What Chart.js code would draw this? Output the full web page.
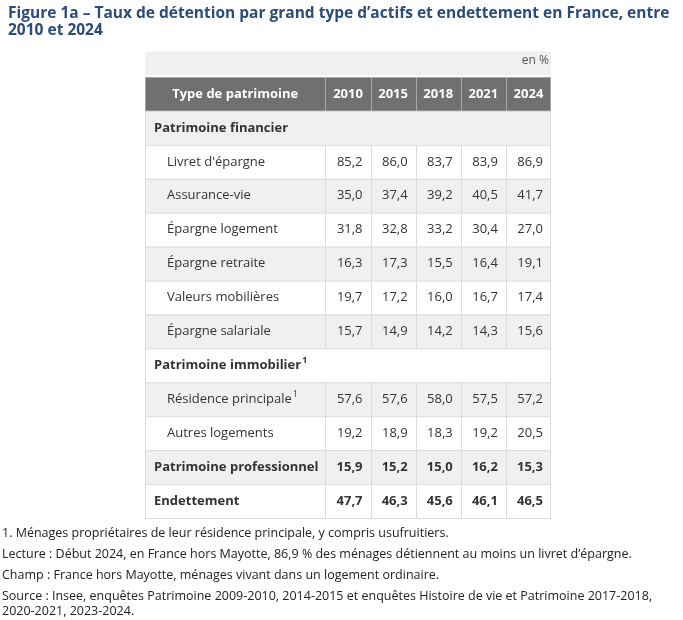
<!DOCTYPE html>
<html>
<head>
<meta charset="utf-8">
<script src="https://cdn.jsdelivr.net/npm/chart.js@4"></script>
<style>
  body { margin: 0; background: #fff; font-family: "Open Sans", sans-serif; }
  #wrap { position: relative; width: 683px; height: 620px; }
  #tbl { position: absolute; left: 0; top: 0; }
  h1 { position: absolute; left: 8px; top: 4px; margin: 0; width: 670px; font-size: 15.5px; line-height: 17px; color: #2b4b7c; font-weight: bold; }
  #notes { position: absolute; left: 2px; top: 522px; font-size: 12.5px; line-height: 21px; color: #222; }
  #notes p { margin: 0; }
</style>
</head>
<body>
<div id="wrap">
  <canvas id="tbl" width="683" height="620"></canvas>
  <h1>Figure 1a – Taux de détention par grand type d’actifs et endettement en France, entre 2010 et 2024</h1>
  <div id="notes">
    <p>1. Ménages propriétaires de leur résidence principale, y compris usufruitiers.</p>
    <p>Lecture : Début 2024, en France hors Mayotte, 86,9 % des ménages détiennent au moins un livret d’épargne.</p>
    <p>Champ : France hors Mayotte, ménages vivant dans un logement ordinaire.</p>
    <p style="line-height:15px;margin-top:3px">Source : Insee, enquêtes Patrimoine 2009-2010, 2014-2015 et enquêtes Histoire de vie et Patrimoine 2017-2018, 2020-2021, 2023-2024.</p>
  </div>
</div>
<script>
const headerLabel = "Type de patrimoine";
const years = ["2010", "2015", "2018", "2021", "2024"];
const rowLabels = [
  "Patrimoine financier", "Livret d'épargne", "Assurance-vie", "Épargne logement",
  "Épargne retraite", "Valeurs mobilières", "Épargne salariale", "Patrimoine immobilier",
  "Résidence principale", "Autres logements", "Patrimoine professionnel", "Endettement"
];
// 0 = section title, 1 = sub item, 2 = bold total line
const rowKinds = [0, 1, 1, 1, 1, 1, 1, 0, 1, 1, 2, 2];
const rowNotes = ["", "", "", "", "", "", "", "1", "1", "", "", ""];
const livret = [85.2, 86.0, 83.7, 83.9, 86.9];
const assuranceVie = [35.0, 37.4, 39.2, 40.5, 41.7];
const epargneLogement = [31.8, 32.8, 33.2, 30.4, 27.0];
const epargneRetraite = [16.3, 17.3, 15.5, 16.4, 19.1];
const valeursMob = [19.7, 17.2, 16.0, 16.7, 17.4];
const epargneSalariale = [15.7, 14.9, 14.2, 14.3, 15.6];
const residence = [57.6, 57.6, 58.0, 57.5, 57.2];
const autresLogements = [19.2, 18.9, 18.3, 19.2, 20.5];
const professionnel = [15.9, 15.2, 15.0, 16.2, 15.3];
const endettement = [47.7, 46.3, 45.6, 46.1, 46.5];
const rowValues = [null, livret, assuranceVie, epargneLogement, epargneRetraite, valeursMob,
  epargneSalariale, null, residence, autresLogements, professionnel, endettement];

// column edges in x-scale units (label column is 4 units wide)
const colEdges = [0, 4, 5, 6, 7, 8, 9];
const fmt = v => v.toFixed(1).replace(".", ",");
const FONT = '"Open Sans", sans-serif';

const tablePlugin = {
  id: "table",
  beforeDatasetsDraw(chart) {
    const ctx = chart.ctx, xs = chart.scales.x, ys = chart.scales.y;
    const X = v => xs.getPixelForValue(v), Y = v => ys.getPixelForValue(v);
    const x0 = X(0), x1 = X(9);
    ctx.save();
    // "en %" band
    ctx.fillStyle = "#f0f0f0";
    ctx.fillRect(x0, Y(-1.75), x1 - x0, Y(-1) - Y(-1.75) - 2);
    ctx.fillStyle = "#555"; ctx.font = "12px " + FONT;
    ctx.textAlign = "right"; ctx.textBaseline = "middle";
    ctx.fillText("en %", x1 - 2, Y(-1.48));
    // header
    ctx.fillStyle = "#707070";
    ctx.fillRect(x0, Y(-1), x1 - x0, Y(0) - Y(-1));
    ctx.strokeStyle = "#a8a8a8"; ctx.lineWidth = 1;
    ctx.strokeRect(x0 + .5, Y(-1) + .5, x1 - x0 - 1, Y(0) - Y(-1));
    for (let c = 1; c < 6; c++) {
      ctx.beginPath(); ctx.moveTo(Math.round(X(colEdges[c])) + .5, Y(-1)); ctx.lineTo(Math.round(X(colEdges[c])) + .5, Y(0)); ctx.stroke();
    }
    ctx.fillStyle = "#fff"; ctx.font = "bold 13px " + FONT; ctx.textAlign = "center";
    ctx.fillText(headerLabel, X(2), Y(-0.5));
    years.forEach((y, i) => ctx.fillText(y, X((colEdges[i + 1] + colEdges[i + 2]) / 2), Y(-0.5)));
    // body rows
    rowLabels.forEach((lab, r) => {
      const top = Y(r), bot = Y(r + 1);
      ctx.fillStyle = r % 2 === 0 ? "#f0f0f0" : "#fff";
      ctx.fillRect(x0, top, x1 - x0, bot - top);
      ctx.strokeStyle = "#dcdcdc";
      ctx.strokeRect(x0 + .5, top + .5, x1 - x0 - 1, bot - top);
      if (rowKinds[r] !== 0) {
        for (let c = 1; c < 6; c++) {
          const px = Math.round(X(colEdges[c])) + .5;
          ctx.beginPath(); ctx.moveTo(px, top); ctx.lineTo(px, bot); ctx.stroke();
        }
      }
      const mid = (top + bot) / 2;
      ctx.fillStyle = "#333"; ctx.textAlign = "left";
      ctx.font = (rowKinds[r] === 1 ? "" : "bold ") + "13px " + FONT;
      const lx = x0 + (rowKinds[r] === 1 ? 22 : 9);
      ctx.fillText(lab, lx, mid);
      if (rowNotes[r]) {
        const w = ctx.measureText(lab).width;
        ctx.font = (rowKinds[r] === 1 ? "" : "bold ") + "9px " + FONT;
        ctx.fillText(rowNotes[r], lx + w + 1, mid - 5);
      }
      const vals = rowValues[r];
      if (vals) {
        ctx.font = (rowKinds[r] === 2 ? "bold " : "") + "13px " + FONT;
        ctx.textAlign = "right";
        vals.forEach((v, i) => ctx.fillText(fmt(v), X(colEdges[i + 2]) - 8, mid));
      }
    });
    ctx.restore();
  }
};

new Chart(document.getElementById("tbl"), {
  type: "scatter",
  data: { datasets: [{ data: [] }] },
  options: {
    responsive: false,
    animation: false,
    layout: { padding: { left: 145, right: 132, top: 77, bottom: 102 } },
    plugins: { legend: { display: false }, tooltip: { enabled: false } },
    scales: {
      x: { type: "linear", min: 0, max: 9, display: false },
      y: { type: "linear", min: -1, max: 12, reverse: true, display: false }
    }
  },
  plugins: [tablePlugin]
});
</script>
</body>
</html>
